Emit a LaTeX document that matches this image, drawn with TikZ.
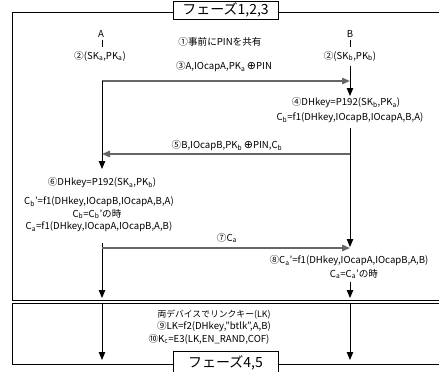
\documentclass[tikz,border=0pt]{standalone}
\usepackage{fontspec}
\setmainfont{Noto Sans CJK JP}
\newfontfamily\dejavu{DejaVu Sans}
\usetikzlibrary{arrows.meta}
\newcommand{\xor}{{\dejavu\fontsize{11}{11}\selectfont ⊕}}
\begin{document}
\begin{tikzpicture}[x=1pt,y=-1pt,
  font=\fontsize{9.6}{11}\selectfont,
  txt/.style={inner sep=0pt, anchor=center},
  life/.style={line width=0.9pt, black},
  msg/.style={line width=1.4pt, black!60},
  tip/.style={-{Triangle[length=8pt,width=6.5pt]}, },
  frame/.style={line width=0.8pt, black},
  titlebox/.style={draw, line width=0.8pt, fill=white, minimum width=105pt, inner sep=0pt, font=\fontsize{14}{16}\selectfont}]
\useasboundingbox (0,0) rectangle (439,372);
% frames
\draw[frame] (12,12) rectangle (445,300);
\draw[frame] (12,303) rectangle (445,364);
\node[titlebox, minimum height=18pt] (t1) at (225.5,10) {フェーズ1,2,3};
\node[titlebox, minimum height=22pt] (t2) at (225.5,362.5) {フェーズ4,5};
% participants
\node[txt] (A) at (101,34) {A};
\node[txt] (B) at (350,34) {B};
\coordinate (Atk1) at (102,40); \coordinate (Atk2) at (102,47);
\coordinate (Btk1) at (350,40); \coordinate (Btk2) at (350,47);
\draw[life] (Atk1) -- (Atk2);
\draw[life] (Btk1) -- (Btk2);
\node[txt] (a2) at (100,56) {②(SK\textsubscript{a},PK\textsubscript{a})};
\node[txt] (b2) at (350,56) {②(SK\textsubscript{b},PK\textsubscript{b})};
\node[txt] (s1) at (220,42) {①事前にPINを共有};
% step 3
\node[txt] (s3) at (224,67) {③A,IOcapA,PK\textsubscript{a}\,\xor PIN};
\coordinate (A3) at (102,81); \coordinate (B3) at (350,81);
\draw[msg,tip] (A3) -- (B3);
\coordinate (Bv1) at (350,66); \coordinate (Bv2) at (350,96);
\draw[life,tip] (Bv1) -- (Bv2);
\node[txt] (b4) at (346,103) {④DHkey=P192(SK\textsubscript{b},PK\textsubscript{a})};
\node[txt] (b4c) at (350,118) {C\textsubscript{b}=f1(DHkey,IOcapB,IOcapA,B,A)};
% step 5
\coordinate (Bv3) at (350,128); \coordinate (Bv4) at (350,247);
\draw[life,tip] (Bv3) -- (Bv4);
\node[txt] (s5) at (227,146) {⑤B,IOcapB,PK\textsubscript{b}\,\xor PIN,C\textsubscript{b}};
\coordinate (B5) at (350,154); \coordinate (A5) at (102,154);
\draw[msg,tip] (B5) -- (A5);
\coordinate (Av1) at (102,169);
\draw[life,tip] (A3) -- (Av1);
% step 6
\node[txt] (a6) at (102,183) {⑥DHkey=P192(SK\textsubscript{a},PK\textsubscript{b})};
\node[txt] (a6b) at (99,202) {C\textsubscript{b}’=f1(DHkey,IOcapB,IOcapA,B,A)};
\node[txt] (a6c) at (97,214) {C\textsubscript{b}=C\textsubscript{b}’の時};
\node[txt] (a6d) at (99,227) {C\textsubscript{a}=f1(DHkey,IOcapA,IOcapB,A,B)};
% step 7
\coordinate (Av2) at (102,243); \coordinate (Av3) at (102,298);
\draw[life,tip] (Av2) -- (Av3);
\node[txt] (s7) at (227,238) {⑦C\textsubscript{a}};
\coordinate (A7) at (102,248); \coordinate (B7) at (350,248);
\draw[msg,tip] (A7) -- (B7);
% step 8
\node[txt] (b8) at (349,261) {⑧C\textsubscript{a}’=f1(DHkey,IOcapA,IOcapB,A,B)};
\node[txt] (b8b) at (354,274) {C\textsubscript{a}=C\textsubscript{a}’の時};
\coordinate (Bv5) at (350,282); \coordinate (Bv6) at (350,298);
\draw[life,tip] (Bv5) -- (Bv6);
% bottom section
\coordinate (Ab1) at (102,303); \coordinate (Ab2) at (102,360);
\coordinate (Bb1) at (350,303); \coordinate (Bb2) at (350,360);
\draw[life,tip] (Ab1) -- (Ab2);
\draw[life,tip] (Bb1) -- (Bb2);
\node[txt, font=\fontsize{8.8}{10}\selectfont] (l1) at (214,315) {両デバイスでリンクキー(LK)};
\node[txt] (l2) at (214,327) {⑨LK=f2(DHkey,”btlk”,A,B)};
\node[txt] (l3) at (209,339) {⑩K\textsubscript{c}=E3(LK,EN\_RAND,COF)};
\end{tikzpicture}
\end{document}
